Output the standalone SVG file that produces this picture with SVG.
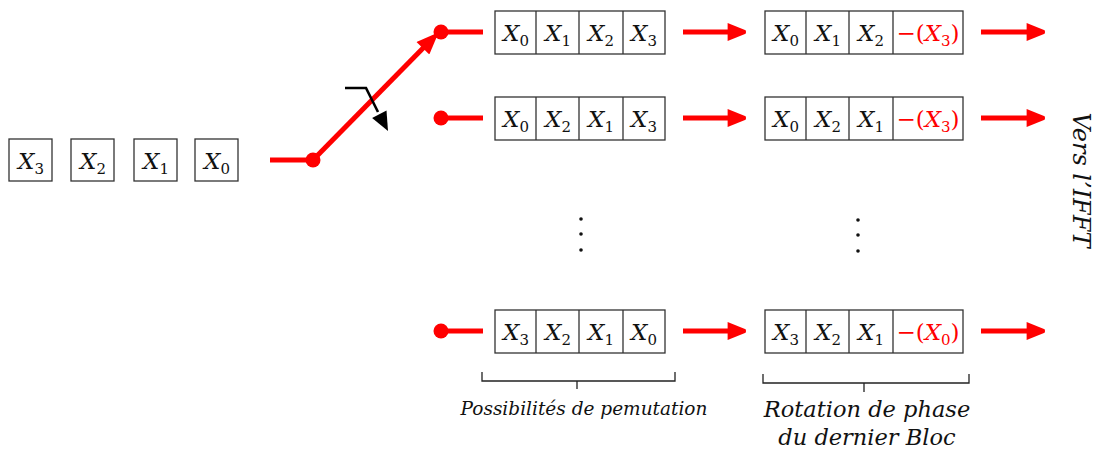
<svg xmlns="http://www.w3.org/2000/svg" width="1096" height="450" viewBox="0 0 1096 450">
<style>
.box{fill:#fff;stroke:#333;stroke-width:1.3}
.x{font-family:'DejaVu Serif',serif;font-style:italic;font-size:23px;fill:#111;text-anchor:middle}
.s{font-style:normal;font-size:15px}
.n{font-style:normal}
.neg{fill:#f00}
.r{fill:#f00}
.red{stroke:#f00;stroke-width:5;fill:none}
.lbl{font-family:'DejaVu Serif',serif;font-style:italic;font-size:22.5px;fill:#111;text-anchor:middle}
.br{stroke:#222;stroke-width:1.3;fill:none}
</style>
<defs>
<marker id="ra" viewBox="0 0 10 10" refX="8" refY="5" markerWidth="4" markerHeight="3.6" orient="auto" markerUnits="strokeWidth">
<path d="M0,0 L10,4 Q10.5,5 10,6 L0,10 z" fill="#f00"/>
</marker>
</defs>

<g id="input">
<rect class="box" x="9" y="139" width="43" height="42"/><text class="x" x="31" y="169">X<tspan class="s" dy="5">3</tspan></text>
<rect class="box" x="71" y="139" width="43" height="42"/><text class="x" x="93" y="169">X<tspan class="s" dy="5">2</tspan></text>
<rect class="box" x="134" y="139" width="43" height="42"/><text class="x" x="156" y="169">X<tspan class="s" dy="5">1</tspan></text>
<rect class="box" x="195" y="139" width="43" height="42"/><text class="x" x="217" y="169">X<tspan class="s" dy="5">0</tspan></text>
</g>

<g id="connectors">
<line class="red" x1="270" y1="160" x2="312" y2="160"/>
<circle class="r" cx="313" cy="160" r="7.5"/>
<line class="red" x1="313" y1="160" x2="433" y2="38" marker-end="url(#ra)"/>
<circle class="r" cx="441" cy="32" r="7.5"/>
<line class="red" x1="441" y1="32" x2="483" y2="32"/>
<circle class="r" cx="441" cy="118" r="7.5"/>
<line class="red" x1="441" y1="118" x2="483" y2="118"/>
<circle class="r" cx="441" cy="331" r="7.5"/>
<line class="red" x1="441" y1="331" x2="483" y2="331"/>
<polyline points="345,88 366,88 378,112" fill="none" stroke="#000" stroke-width="2.6"/>
<polygon points="388,131 386.5,110.6 372.1,118" fill="#000"/>
<line class="red" x1="683" y1="32" x2="742" y2="32" marker-end="url(#ra)"/>
<line class="red" x1="683" y1="118" x2="742" y2="118" marker-end="url(#ra)"/>
<line class="red" x1="683" y1="331" x2="742" y2="331" marker-end="url(#ra)"/>
<line class="red" x1="981" y1="32" x2="1041" y2="32" marker-end="url(#ra)"/>
<line class="red" x1="981" y1="118" x2="1041" y2="118" marker-end="url(#ra)"/>
<line class="red" x1="981" y1="331" x2="1041" y2="331" marker-end="url(#ra)"/>
</g>

<g id="perm1">
<rect class="box" x="495" y="11" width="170" height="43"/>
<path class="box" d="M536,11V54M579,11V54M623,11V54"/>
<text class="x" x="516" y="41">X<tspan class="s" dy="5">0</tspan></text>
<text class="x" x="558" y="41">X<tspan class="s" dy="5">1</tspan></text>
<text class="x" x="601" y="41">X<tspan class="s" dy="5">2</tspan></text>
<text class="x" x="644" y="41">X<tspan class="s" dy="5">3</tspan></text>
</g>
<g id="perm2">
<rect class="box" x="495" y="97" width="170" height="43"/>
<path class="box" d="M536,97V140M579,97V140M623,97V140"/>
<text class="x" x="516" y="127">X<tspan class="s" dy="5">0</tspan></text>
<text class="x" x="558" y="127">X<tspan class="s" dy="5">2</tspan></text>
<text class="x" x="601" y="127">X<tspan class="s" dy="5">1</tspan></text>
<text class="x" x="644" y="127">X<tspan class="s" dy="5">3</tspan></text>
</g>
<g id="perm3">
<rect class="box" x="495" y="310" width="170" height="43"/>
<path class="box" d="M536,310V353M579,310V353M623,310V353"/>
<text class="x" x="516" y="340">X<tspan class="s" dy="5">3</tspan></text>
<text class="x" x="558" y="340">X<tspan class="s" dy="5">2</tspan></text>
<text class="x" x="601" y="340">X<tspan class="s" dy="5">1</tspan></text>
<text class="x" x="644" y="340">X<tspan class="s" dy="5">0</tspan></text>
</g>

<g id="rot1">
<rect class="box" x="765" y="11" width="198" height="43"/>
<path class="box" d="M806,11V54M849,11V54M893,11V54"/>
<text class="x" x="786" y="41">X<tspan class="s" dy="5">0</tspan></text>
<text class="x" x="828" y="41">X<tspan class="s" dy="5">1</tspan></text>
<text class="x" x="871" y="41">X<tspan class="s" dy="5">2</tspan></text>
<text class="x neg" x="928" y="41"><tspan class="n">−(</tspan>X<tspan class="s" dy="5">3</tspan><tspan class="n" dy="-5">)</tspan></text>
</g>
<g id="rot2">
<rect class="box" x="765" y="97" width="198" height="43"/>
<path class="box" d="M806,97V140M849,97V140M893,97V140"/>
<text class="x" x="786" y="127">X<tspan class="s" dy="5">0</tspan></text>
<text class="x" x="828" y="127">X<tspan class="s" dy="5">2</tspan></text>
<text class="x" x="871" y="127">X<tspan class="s" dy="5">1</tspan></text>
<text class="x neg" x="928" y="127"><tspan class="n">−(</tspan>X<tspan class="s" dy="5">3</tspan><tspan class="n" dy="-5">)</tspan></text>
</g>
<g id="rot3">
<rect class="box" x="765" y="310" width="198" height="43"/>
<path class="box" d="M806,310V353M849,310V353M893,310V353"/>
<text class="x" x="786" y="340">X<tspan class="s" dy="5">3</tspan></text>
<text class="x" x="828" y="340">X<tspan class="s" dy="5">2</tspan></text>
<text class="x" x="871" y="340">X<tspan class="s" dy="5">1</tspan></text>
<text class="x neg" x="928" y="340"><tspan class="n">−(</tspan>X<tspan class="s" dy="5">0</tspan><tspan class="n" dy="-5">)</tspan></text>
</g>

<g id="vdots">
<circle cx="581" cy="219" r="1.8" fill="#111"/><circle cx="581" cy="234" r="1.8" fill="#111"/><circle cx="581" cy="250" r="1.8" fill="#111"/>
<circle cx="858" cy="220" r="1.8" fill="#111"/><circle cx="858" cy="235" r="1.8" fill="#111"/><circle cx="858" cy="251" r="1.8" fill="#111"/>
</g>

<g id="brace1">
<path class="br" d="M482,372V381H675V372M577,381V389"/>
<text class="lbl" x="584" y="415" style="font-size:18.5px">Possibilités de pemutation</text>
</g>
<g id="brace2">
<path class="br" d="M763,374V383H969V374M864,383V392"/>
<text class="lbl" x="867" y="417">Rotation de phase</text>
<text class="lbl" x="867" y="445">du dernier Bloc</text>
</g>

<g id="output-label">
<text class="lbl" style="font-size:24px" transform="translate(1073,180) rotate(90)">Vers l’IFFT</text>
</g>
</svg>
